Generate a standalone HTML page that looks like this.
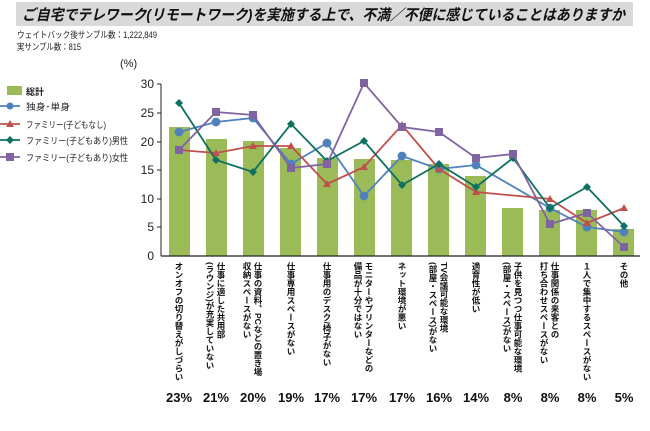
<!DOCTYPE html>
<html><head><meta charset="utf-8"><style>
body{margin:0;background:#fff;}
svg text{font-family:"Liberation Sans","Noto Sans CJK JP",sans-serif;}
</style></head><body>
<svg width="650" height="426" xmlns="http://www.w3.org/2000/svg">
<rect x="16" y="2" width="617" height="24" fill="#d9d9d9"/>
<text x="22" y="20" font-size="15" font-weight="bold" font-style="italic" fill="#111" textLength="603" lengthAdjust="spacingAndGlyphs">ご自宅でテレワーク(リモートワーク)を実施する上で、不満／不便に感じていることはありますか</text>
<text x="17" y="38" font-size="9" fill="#222" textLength="140" lengthAdjust="spacingAndGlyphs">ウェイトバック後サンプル数：1,222,849</text>
<text x="17" y="50" font-size="9" fill="#222" textLength="64" lengthAdjust="spacingAndGlyphs">実サンプル数：815</text>
<text x="120" y="67" font-size="11" fill="#222">(%)</text>
<g font-size="12" fill="#222" text-anchor="end">
<text x="154" y="88">30</text><text x="154" y="117">25</text><text x="154" y="146">20</text><text x="154" y="174">15</text><text x="154" y="203">10</text><text x="154" y="231">5</text><text x="154" y="260">0</text>
</g>
<g stroke="#222" stroke-width="1">
<line x1="161" y1="84" x2="161" y2="256"/>
<line x1="157" y1="84" x2="161" y2="84"/><line x1="157" y1="113" x2="161" y2="113"/><line x1="157" y1="142" x2="161" y2="142"/><line x1="157" y1="170" x2="161" y2="170"/><line x1="157" y1="199" x2="161" y2="199"/><line x1="157" y1="227" x2="161" y2="227"/>
</g>
<g fill="#9bbb59">
<rect x="169" y="127" width="21" height="129"/>
<rect x="206" y="139" width="21" height="117"/>
<rect x="243" y="141" width="21" height="115"/>
<rect x="280" y="148" width="21" height="108"/>
<rect x="317" y="158" width="21" height="98"/>
<rect x="354" y="159" width="21" height="97"/>
<rect x="391" y="160" width="21" height="96"/>
<rect x="428" y="164" width="21" height="92"/>
<rect x="465" y="176" width="21" height="80"/>
<rect x="502" y="208" width="21" height="48"/>
<rect x="539" y="210" width="21" height="46"/>
<rect x="576" y="210" width="21" height="46"/>
<rect x="613" y="229" width="21" height="27"/>
</g>
<line x1="161" y1="256" x2="640" y2="256" stroke="#222" stroke-width="1.2"/>
<g stroke="#4f81bd" stroke-width="1.8" fill="#4f81bd">
<polyline fill="none" points="179,132 216,122 253,118 291,164 327,143 364,196 402,156 439,169 476,165 550,208 587,227 624,232"/>
<circle cx="179" cy="132" r="3.5"/><circle cx="216" cy="122" r="3.5"/><circle cx="253" cy="118" r="3.5"/><circle cx="291" cy="164" r="3.5"/><circle cx="327" cy="143" r="3.5"/><circle cx="364" cy="196" r="3.5"/><circle cx="402" cy="156" r="3.5"/><circle cx="439" cy="169" r="3.5"/><circle cx="476" cy="165" r="3.5"/><circle cx="550" cy="208" r="3.5"/><circle cx="587" cy="227" r="3.5"/><circle cx="624" cy="232" r="3.5"/>
</g>
<g stroke="#c0504d" stroke-width="1.8" fill="#c0504d">
<polyline fill="none" points="179,150 216,153 253,146 291,146 327,184 364,167 402,125 439,169 476,192 550,199 587,223 624,208"/>
<g stroke="none">
<path d="M179,146 l4,7 h-8z"/><path d="M216,149 l4,7 h-8z"/><path d="M253,142 l4,7 h-8z"/><path d="M291,142 l4,7 h-8z"/><path d="M327,180 l4,7 h-8z"/><path d="M364,163 l4,7 h-8z"/><path d="M402,121 l4,7 h-8z"/><path d="M439,165 l4,7 h-8z"/><path d="M476,188 l4,7 h-8z"/><path d="M550,195 l4,7 h-8z"/><path d="M587,219 l4,7 h-8z"/><path d="M624,204 l4,7 h-8z"/>
</g></g>
<g stroke="#0e7060" stroke-width="1.8" fill="#0e7060">
<polyline fill="none" points="179,103 216,160 253,172 291,124 327,161 364,141 402,185 439,164 476,187 513,158 550,208 587,187 624,226"/>
<g stroke="none">
<path d="M179,99 l4,4 -4,4 -4,-4z"/><path d="M216,156 l4,4 -4,4 -4,-4z"/><path d="M253,168 l4,4 -4,4 -4,-4z"/><path d="M291,120 l4,4 -4,4 -4,-4z"/><path d="M327,157 l4,4 -4,4 -4,-4z"/><path d="M364,137 l4,4 -4,4 -4,-4z"/><path d="M402,181 l4,4 -4,4 -4,-4z"/><path d="M439,160 l4,4 -4,4 -4,-4z"/><path d="M476,183 l4,4 -4,4 -4,-4z"/><path d="M513,154 l4,4 -4,4 -4,-4z"/><path d="M550,204 l4,4 -4,4 -4,-4z"/><path d="M587,183 l4,4 -4,4 -4,-4z"/><path d="M624,222 l4,4 -4,4 -4,-4z"/>
</g></g>
<g stroke="#8064a2" stroke-width="1.8" fill="#8064a2">
<polyline fill="none" points="179,150 216,112 253,115 291,168 327,164 364,83 402,127 439,132 476,158 513,154 550,224 587,213 624,247"/>
<g stroke="none">
<rect x="175" y="146" width="8" height="8"/><rect x="212" y="108" width="8" height="8"/><rect x="249" y="111" width="8" height="8"/><rect x="287" y="164" width="8" height="8"/><rect x="323" y="160" width="8" height="8"/><rect x="360" y="79" width="8" height="8"/><rect x="398" y="123" width="8" height="8"/><rect x="435" y="128" width="8" height="8"/><rect x="472" y="154" width="8" height="8"/><rect x="509" y="150" width="8" height="8"/><rect x="546" y="220" width="8" height="8"/><rect x="583" y="209" width="8" height="8"/><rect x="620" y="243" width="8" height="8"/>
</g></g>
<rect x="7" y="86" width="15" height="9" fill="#9bbb59"/>
<text x="26" y="95" font-size="9" font-weight="bold" fill="#222">総計</text>
<line x1="0" y1="106" x2="20" y2="106" stroke="#4f81bd" stroke-width="1.8"/><circle cx="10" cy="106" r="3.5" fill="#4f81bd"/>
<text x="26" y="110" font-size="9" fill="#222" textLength="44" lengthAdjust="spacingAndGlyphs">独身･単身</text>
<line x1="0" y1="124" x2="20" y2="124" stroke="#c0504d" stroke-width="1.8"/><path d="M10,120 l4,7 h-8z" fill="#c0504d"/>
<text x="26" y="128" font-size="9" fill="#222" textLength="80" lengthAdjust="spacingAndGlyphs">ファミリー(子どもなし)</text>
<line x1="0" y1="140" x2="20" y2="140" stroke="#0e7060" stroke-width="1.8"/><path d="M10,136 l4,4 -4,4 -4,-4z" fill="#0e7060"/>
<text x="26" y="144" font-size="9" fill="#222" textLength="102" lengthAdjust="spacingAndGlyphs">ファミリー(子どもあり)男性</text>
<line x1="0" y1="157" x2="20" y2="157" stroke="#8064a2" stroke-width="1.8"/><rect x="6" y="153" width="8" height="8" fill="#8064a2"/>
<text x="26" y="161" font-size="9" fill="#222" textLength="102" lengthAdjust="spacingAndGlyphs">ファミリー(子どもあり)女性</text>
<g font-size="8.5" font-weight="bold" fill="#111" style="writing-mode:vertical-rl">
<text x="179" y="262">オンオフの切り替えがしづらい</text>
<text x="221" y="262">仕事に適した共用部</text><text x="210" y="262">(ラウンジ)が充実していない</text>
<text x="258" y="262">仕事の資料、PCなどの置き場</text><text x="247" y="262">収納スペースがない</text>
<text x="291" y="262">仕事専用スペースがない</text>
<text x="327" y="262">仕事用のデスク/椅子がない</text>
<text x="369" y="262">モニターやプリンターなどの</text><text x="358" y="262">備品が十分ではない</text>
<text x="402" y="262">ネット環境が悪い</text>
<text x="444" y="262">TV会議可能な環境</text><text x="433" y="262">(部屋・スペース)がない</text>
<text x="476" y="262">適育性が低い</text>
<text x="518" y="262">子供を見つつ仕事可能な環境</text><text x="507" y="262">(部屋・スペース)がない</text>
<text x="555" y="262">仕事関係の来客との</text><text x="544" y="262">打ち合わせスペースがない</text>
<text x="587" y="262">１人で集中するスペースがない</text>
<text x="624" y="262">その他</text>
</g>
<g font-size="13" font-weight="bold" fill="#111" text-anchor="middle">
<text x="179" y="402">23%</text><text x="216" y="402">21%</text><text x="253" y="402">20%</text><text x="291" y="402">19%</text><text x="327" y="402">17%</text><text x="364" y="402">17%</text><text x="402" y="402">17%</text><text x="439" y="402">16%</text><text x="476" y="402">14%</text><text x="513" y="402">8%</text><text x="550" y="402">8%</text><text x="587" y="402">8%</text><text x="624" y="402">5%</text>
</g>
</svg>
</body></html>
